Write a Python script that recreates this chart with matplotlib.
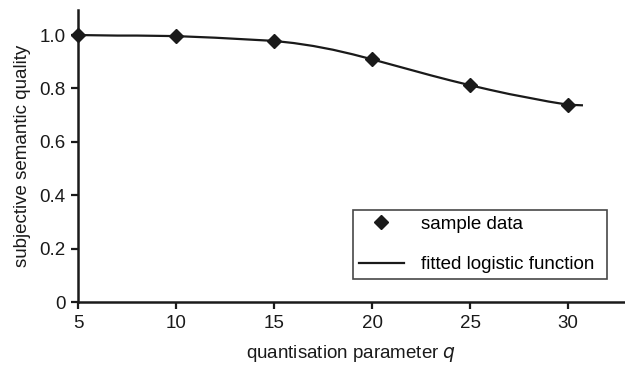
import matplotlib
matplotlib.use("Agg")
import matplotlib.pyplot as plt

plt.rcParams['font.family'] = ['Liberation Sans', 'DejaVu Sans']

# sample data
q_sample = [5, 10, 15, 20, 25, 30]
quality_sample = [1.0, 0.996, 0.978, 0.909, 0.812, 0.737]

# fitted logistic curve
q_fit = [5, 6, 7, 8, 9, 10, 11, 12, 13, 14, 15, 16, 17, 18, 19, 20,
         21, 22, 23, 24, 25, 26, 27, 28, 29, 30, 30.7]
quality_fit = [1.000, 0.999, 0.998, 0.998, 0.997, 0.996, 0.993, 0.990, 0.986,
               0.982, 0.978, 0.970, 0.959, 0.945, 0.928, 0.909, 0.889, 0.869,
               0.849, 0.830, 0.812, 0.795, 0.779, 0.765, 0.751, 0.739, 0.737]

x_ticks = [5, 10, 15, 20, 25, 30]
y_ticks = [0, 0.2, 0.4, 0.6, 0.8, 1.0]
y_tick_labels = ['0', '0.2', '0.4', '0.6', '0.8', '1.0']

fig = plt.figure(figsize=(6.25, 3.68), dpi=100)
ax = fig.add_axes([0.125, 0.179, 0.875, 0.794])

ax.plot(q_fit, quality_fit, color='#1a1a1a', lw=1.6, label='fitted logistic function',
        zorder=2)
ax.plot(q_sample, quality_sample, 'D', color='#1a1a1a', ms=7, label='sample data',
        zorder=3, clip_on=False)

ax.set_xlim(5, 32.9)
ax.set_ylim(0, 1.094)
ax.set_xticks(x_ticks)
ax.set_yticks(y_ticks)
ax.set_yticklabels(y_tick_labels)

for s in ['top', 'right']:
    ax.spines[s].set_visible(False)
for s in ['left', 'bottom']:
    ax.spines[s].set_linewidth(1.8)
    ax.spines[s].set_color('#1a1a1a')
ax.tick_params(direction='out', length=5, width=1.6, labelsize=13.5, colors='#1a1a1a',
               pad=4)

ax.set_xlabel('quantisation parameter $q$', fontsize=13.5, color='#1a1a1a', labelpad=8)
ax.set_ylabel('subjective semantic quality', fontsize=13.5, color='#1a1a1a', labelpad=6)

handles, labels = ax.get_legend_handles_labels()
leg = ax.legend(handles[::-1], labels[::-1], loc='lower left',
                bbox_to_anchor=(0.503, 0.079, 0.464, 0.229), mode='expand',
                borderaxespad=0, fontsize=13.5, frameon=True, fancybox=False,
                borderpad=0.3, handlelength=2.4, labelspacing=1.25,
                handletextpad=0.9)
leg.get_frame().set_edgecolor('#1a1a1a')
leg.get_frame().set_linewidth(1.2)

fig.savefig('out.png', dpi=100)
